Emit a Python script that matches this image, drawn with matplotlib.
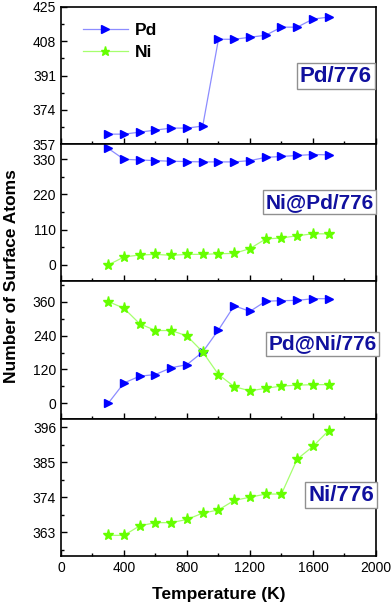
import numpy as np
import matplotlib.pyplot as plt
from matplotlib.ticker import AutoMinorLocator

plt.rcParams['font.family'] = ['Liberation Sans', 'DejaVu Sans']

temps = [300, 400, 500, 600, 700, 800, 900, 1000, 1100, 1200, 1300, 1400, 1500, 1600, 1700]

# Pd/776
pd_pure = [362, 362, 363, 364, 365, 365, 366, 409, 409, 410, 411, 415, 415, 419, 420]
# Ni@Pd/776
pd_nipd = [363, 329, 327, 325, 323, 322, 321, 321, 321, 325, 335, 338, 341, 344, 343]
ni_nipd = [0, 25, 31, 33, 30, 33, 33, 35, 36, 51, 81, 84, 91, 97, 97]
# Pd@Ni/776
pd_pdni = [0, 72, 96, 102, 126, 137, 182, 260, 346, 326, 362, 364, 365, 371, 371]
ni_pdni = [361, 337, 282, 258, 258, 239, 182, 102, 59, 44, 53, 61, 64, 66, 66]
# Ni/776
ni_pure = [362, 362, 365, 366, 366, 367, 369, 370, 373, 374, 375, 375, 386, 390, 395]

panel_names = ['Pd/776', 'Ni@Pd/776', 'Pd@Ni/776', 'Ni/776']
panel_ylims = [(357, 425), (-51.5, 376), (-55, 432), (355.5, 398.7)]
panel_yticks = [[357, 374, 391, 408, 425], [0, 110, 220, 330], [0, 120, 240, 360], [363, 374, 385, 396]]
label_pos = [(0.873, 0.496), (0.822, 0.578), (0.830, 0.547), (0.889, 0.444)]
label_size = [16, 15, 15, 16]

pd_line = '#8c8cff'
ni_line = '#a6ff6e'
pd_mark = '#0000ff'
ni_mark = '#66ff00'
navy = '#10109e'

fig, axes = plt.subplots(4, 1, figsize=(3.92, 6.07), dpi=100, sharex=True)
fig.subplots_adjust(left=0.1556, right=0.959, top=0.9885, bottom=0.084, hspace=0)


def plot_pd(ax, y):
    return ax.plot(temps, y, '-', color=pd_line, lw=0.9, marker='>', ms=6,
                   mfc=pd_mark, mec=pd_mark, label='Pd')[0]


def plot_ni(ax, y):
    return ax.plot(temps, y, '-', color=ni_line, lw=0.9, marker='*', ms=8,
                   mfc=ni_mark, mec=ni_mark, label='Ni')[0]


h1 = plot_pd(axes[0], pd_pure)
plot_pd(axes[1], pd_nipd)
plot_ni(axes[1], ni_nipd)
plot_pd(axes[2], pd_pdni)
plot_ni(axes[2], ni_pdni)
h2 = plot_ni(axes[3], ni_pure)

for i, ax in enumerate(axes):
    ax.set_xlim(0, 2000)
    ax.set_ylim(*panel_ylims[i])
    ax.set_yticks(panel_yticks[i])
    ax.set_xticks([0, 400, 800, 1200, 1600, 2000])
    ax.xaxis.set_minor_locator(AutoMinorLocator(2))
    ax.yaxis.set_minor_locator(AutoMinorLocator(2))
    ax.tick_params(which='both', direction='in', top=False, right=False, labelsize=10)
    ax.tick_params(which='major', length=4, width=1)
    ax.tick_params(which='minor', length=2.5, width=1)
    for s in ax.spines.values():
        s.set_linewidth(1.2)
    ax.text(label_pos[i][0], label_pos[i][1], panel_names[i], transform=ax.transAxes,
            ha='center', va='center', fontsize=label_size[i], fontweight='bold', color=navy,
            bbox=dict(boxstyle='square,pad=0.12', fc='white', ec='#909090', lw=1))

axes[0].legend([h1, h2], ['Pd', 'Ni'], loc='upper left', bbox_to_anchor=(0.02, 1.0),
               frameon=False, prop={'weight': 'bold', 'size': 12.5}, handlelength=2.6,
               handletextpad=0.4, labelspacing=0.4, markerscale=0.85)

axes[3].set_xlabel('Temperature (K)', fontsize=12.5, fontweight='bold', labelpad=9)
fig.text(0.03, 0.545, 'Number of Surface Atoms', rotation=90, ha='center', va='center',
         fontsize=12.5, fontweight='bold')

plt.savefig('out.png', dpi=100)
